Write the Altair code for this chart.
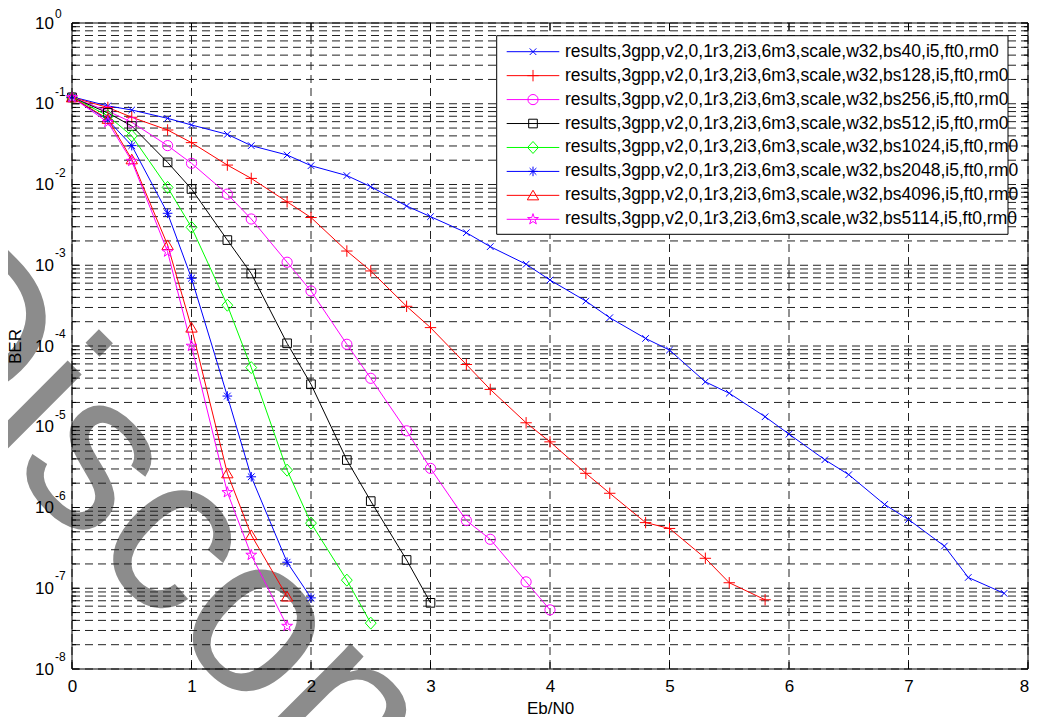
import altair as alt
import pandas as pd

FONT = "Liberation Sans"

# ---------------- data ----------------
EBN0 = [0, 0.3, 0.5, 0.8, 1.0, 1.3, 1.5, 1.8, 2.0, 2.3, 2.5, 2.8, 3.0, 3.3, 3.5, 3.8,
        4.0, 4.3, 4.5, 4.8, 5.0, 5.3, 5.5, 5.8, 6.0, 6.3, 6.5, 6.8, 7.0, 7.3, 7.5, 7.8]

BLOCK_SIZES = [40, 128, 256, 512, 1024, 2048, 4096, 5114]

BER_BS40 = [0.122, 0.094, 0.0837, 0.066, 0.0546, 0.0418, 0.0303, 0.0232, 0.0171, 0.0129,
            0.0094, 0.00542, 0.0040, 0.00253, 0.0017, 0.00103, 6.56e-4, 3.6e-4, 2.24e-4,
            1.24e-4, 8.9e-5, 3.6e-5, 2.6e-5, 1.33e-5, 8.1e-6, 3.9e-6, 2.55e-6, 1.09e-6,
            7.1e-7, 3.33e-7, 1.36e-7, 8.65e-8]
BER_BS128 = [0.12, 0.090, 0.068, 0.0473, 0.033, 0.0174, 0.0119, 0.0061, 0.0039, 0.0015,
             8.5e-4, 3.1e-4, 1.69e-4, 5.9e-5, 2.9e-5, 1.12e-5, 6.5e-6, 2.65e-6, 1.5e-6,
             6.5e-7, 5.5e-7, 2.35e-7, 1.17e-7, 7.2e-8]
BER_BS256 = [0.12, 0.081, 0.059, 0.0303, 0.0183, 0.0076, 0.00374, 1.09e-3, 4.8e-4, 1.05e-4,
             3.98e-5, 8.9e-6, 3.05e-6, 6.9e-7, 4.04e-7, 1.2e-7, 5.4e-8]
BER_BS512 = [0.12, 0.077, 0.053, 0.0188, 0.0088, 0.00205, 7.9e-4, 1.08e-4, 3.36e-5,
             3.87e-6, 1.2e-6, 2.24e-7, 6.6e-8]
BER_BS1024 = [0.12, 0.071, 0.040, 0.0092, 0.00295, 3.2e-4, 5.4e-5, 2.9e-6, 6.4e-7,
              1.26e-7, 3.7e-8]
BER_BS2048 = [0.12, 0.063, 0.0303, 0.0044, 6.9e-4, 2.4e-5, 2.4e-6, 2.1e-7, 7.6e-8]
BER_BS4096 = [0.12, 0.065, 0.0205, 1.78e-3, 1.69e-4, 2.65e-6, 4.56e-7, 7.9e-8]
BER_BS5114 = [0.12, 0.059, 0.0195, 1.47e-3, 1.0e-4, 1.54e-6, 2.58e-7, 3.4e-8]

BER_SERIES = [BER_BS40, BER_BS128, BER_BS256, BER_BS512,
              BER_BS1024, BER_BS2048, BER_BS4096, BER_BS5114]

SERIES_COLORS = ["#0000ff", "#ff0000", "#ff00ff", "#000000",
                 "#00ff00", "#0000ff", "#ff0000", "#ff00ff"]

X_TICKS = [0, 1, 2, 3, 4, 5, 6, 7, 8]
Y_DECADES = [1e0, 1e-1, 1e-2, 1e-3, 1e-4, 1e-5, 1e-6, 1e-7, 1e-8]
Y_EXPONENTS = ["0", "-1", "-2", "-3", "-4", "-5", "-6", "-7", "-8"]
Y_MINOR = [m * 10.0 ** e for e in range(-8, 0) for m in range(2, 10)]
Y_GRID = sorted(Y_DECADES + Y_MINOR)

WATERMARK = "Discontinued"
WATERMARK_COLOR = "#8c8c8c"

# marker paths (MATLAB style: x + o s d * ^ p)
SHAPES = [
    "M-0.55,-0.55L0.55,0.55M-0.55,0.55L0.55,-0.55",
    "M-0.95,0L0.95,0M0,-0.95L0,0.95",
    "M0.85,0A0.85,0.85 0 1,1 -0.85,0A0.85,0.85 0 1,1 0.85,0Z",
    "M-0.72,-0.72L0.72,-0.72L0.72,0.72L-0.72,0.72Z",
    "M0,-1L0.9,0L0,1L-0.9,0Z",
    "M-0.8,0L0.8,0M0,-0.8L0,0.8M-0.56,-0.56L0.56,0.56M-0.56,0.56L0.56,-0.56",
    "M0,-0.85L0.95,0.75L-0.95,0.75Z",
    "M0,-0.95L0.2134,-0.2937L0.9035,-0.2936L0.3452,0.1122L0.5584,0.7686L0,0.363"
    "L-0.5584,0.7686L-0.3452,0.1122L-0.9035,-0.2936L-0.2134,-0.2937Z",
]

names = [f"results,3gpp,v2,0,1r3,2i3,6m3,scale,w32,bs{b},i5,ft0,rm0" for b in BLOCK_SIZES]

rows = []
for name, bers in zip(names, BER_SERIES):
    for x, y in zip(EBN0, bers):
        rows.append({"series": name, "ebn0": x, "ber": y})
df = pd.DataFrame(rows)

# ---------------- layout ----------------
W, H = 956, 646
GRID_COLOR = "#222222"
DASH = [8, 5]

xscale = alt.Scale(domain=[0, 8], nice=False, zero=False)
yscale = alt.Scale(type="log", domain=[1e-8, 1.0], nice=False)

color_enc = alt.Color("series:N", scale=alt.Scale(domain=names, range=SERIES_COLORS), legend=None)
shape_enc = alt.Shape("series:N", scale=alt.Scale(domain=names, range=SHAPES), legend=None)

xaxis = alt.Axis(values=X_TICKS, title="Eb/N0", grid=False, tickSize=0, domain=False,
                 labelFlush=False, labelPadding=9, zindex=1,
                 labelOffset={"condition": {"test": "datum.value == 8", "value": -4}, "value": 0},
                 labelFontSize=17, labelFont=FONT, labelColor="#000000",
                 titleFontSize=17, titleFont=FONT, titleColor="#000000",
                 titleFontWeight="normal", titlePadding=6, format="d")
yaxis = alt.Axis(values=Y_DECADES, title="BER", grid=False, tickSize=0, domain=False,
                 labelFlush=False, labelOverlap=False, zindex=1,
                 labelPadding=18.5, labelFontSize=17, labelFont=FONT, labelColor="#000000",
                 labelExpr="'10'",
                 titleFontSize=17, titleFont=FONT, titleColor="#000000",
                 titleFontWeight="normal", titlePadding=10)

watermark = alt.Chart(pd.DataFrame({"t": [WATERMARK]})).mark_text(
    angle=45, fontSize=225, font=FONT, align="left", baseline="alphabetic",
    color=WATERMARK_COLOR
).encode(text="t:N", x=alt.value(-214), y=alt.value(296))

hgrid = alt.Chart(pd.DataFrame({"ber": Y_GRID})).mark_rule(
    color=GRID_COLOR, strokeWidth=1, strokeDash=DASH
).encode(y=alt.Y("ber:Q", scale=yscale, axis=yaxis), x=alt.value(0), x2=alt.value(W))

vgrid = alt.Chart(pd.DataFrame({"ebn0": X_TICKS})).mark_rule(
    color=GRID_COLOR, strokeWidth=1, strokeDash=DASH
).encode(x=alt.X("ebn0:Q", scale=xscale, axis=xaxis), y=alt.value(0), y2=alt.value(H))

lines = alt.Chart(df).mark_line(strokeWidth=1).encode(
    x=alt.X("ebn0:Q", scale=xscale),
    y=alt.Y("ber:Q", scale=yscale),
    color=color_enc,
)

points = alt.Chart(df).mark_point(filled=False, size=144, strokeWidth=1, opacity=1).encode(
    x=alt.X("ebn0:Q", scale=xscale),
    y=alt.Y("ber:Q", scale=yscale),
    color=color_enc,
    shape=shape_enc,
)

major_df = pd.DataFrame({"ber": Y_DECADES})
minor_df = pd.DataFrame({"ber": Y_MINOR})
xt_df = pd.DataFrame({"ebn0": X_TICKS})


def yticks(data, length):
    left = alt.Chart(data).mark_rule(color="black", strokeWidth=1).encode(
        y=alt.Y("ber:Q", scale=yscale), x=alt.value(0), x2=alt.value(length))
    right = alt.Chart(data).mark_rule(color="black", strokeWidth=1).encode(
        y=alt.Y("ber:Q", scale=yscale), x=alt.value(W), x2=alt.value(W - length))
    return [left, right]


xt_bottom = alt.Chart(xt_df).mark_rule(color="black", strokeWidth=1).encode(
    x=alt.X("ebn0:Q", scale=xscale), y=alt.value(H), y2=alt.value(H - 7))
xt_top = alt.Chart(xt_df).mark_rule(color="black", strokeWidth=1).encode(
    x=alt.X("ebn0:Q", scale=xscale), y=alt.value(0), y2=alt.value(7))

box = alt.Chart(pd.DataFrame({"a": [0]})).mark_rect(
    fillOpacity=0, stroke="black", strokeWidth=1
).encode(x=alt.value(0), x2=alt.value(W), y=alt.value(0), y2=alt.value(H))

exp_df = pd.DataFrame({"ber": Y_DECADES, "exp": Y_EXPONENTS})
exps_top = alt.Chart(exp_df.iloc[:1]).mark_text(
    align="left", baseline="middle", fontSize=12, font=FONT, dy=-9, color="black"
).encode(y=alt.Y("ber:Q", scale=yscale), x=alt.value(-17), text="exp:N")
exps_rest = alt.Chart(exp_df.iloc[1:]).mark_text(
    align="left", baseline="middle", fontSize=12, font=FONT, dy=-12, color="black"
).encode(y=alt.Y("ber:Q", scale=yscale), x=alt.value(-17), text="exp:N")

main = alt.layer(watermark, hgrid, vgrid, lines, points,
                 *yticks(major_df, 7), *yticks(minor_df, 4),
                 xt_bottom, xt_top, box, exps_top, exps_rest)

# ---------------- legend ----------------
leg_df = pd.DataFrame({"series": names})
ly = alt.Y("series:N", scale=alt.Scale(type="point", domain=names, range=[28.7, 196.3], padding=0),
           axis=None)

legend_box = alt.Chart(pd.DataFrame({"a": [0]})).mark_rect(
    fill="white", stroke="black", strokeWidth=1
).encode(x=alt.value(424.7), x2=alt.value(936), y=alt.value(12.7), y2=alt.value(211.3))
legend_lines = alt.Chart(leg_df).mark_rule(strokeWidth=1).encode(
    y=ly, x=alt.value(434.7), x2=alt.value(487.3), color=color_enc)
legend_pts = alt.Chart(leg_df).mark_point(filled=False, size=144, strokeWidth=1, opacity=1).encode(
    y=ly, x=alt.value(461), color=color_enc, shape=shape_enc)
legend_text = alt.Chart(leg_df).mark_text(
    align="left", baseline="middle", fontSize=17.5, font=FONT, color="black"
).encode(y=ly, x=alt.value(493), text="series:N")

legend = alt.layer(legend_box, legend_lines, legend_pts, legend_text)

chart = alt.layer(main, legend).resolve_scale(y="independent").properties(
    width=W, height=H,
    autosize=alt.AutoSizeParams(type="none"),
    padding={"left": 64, "top": 15, "right": 1, "bottom": 48},
).configure_view(stroke=None)

chart.save("out.html", embed_options={"renderer": "svg", "actions": False})
